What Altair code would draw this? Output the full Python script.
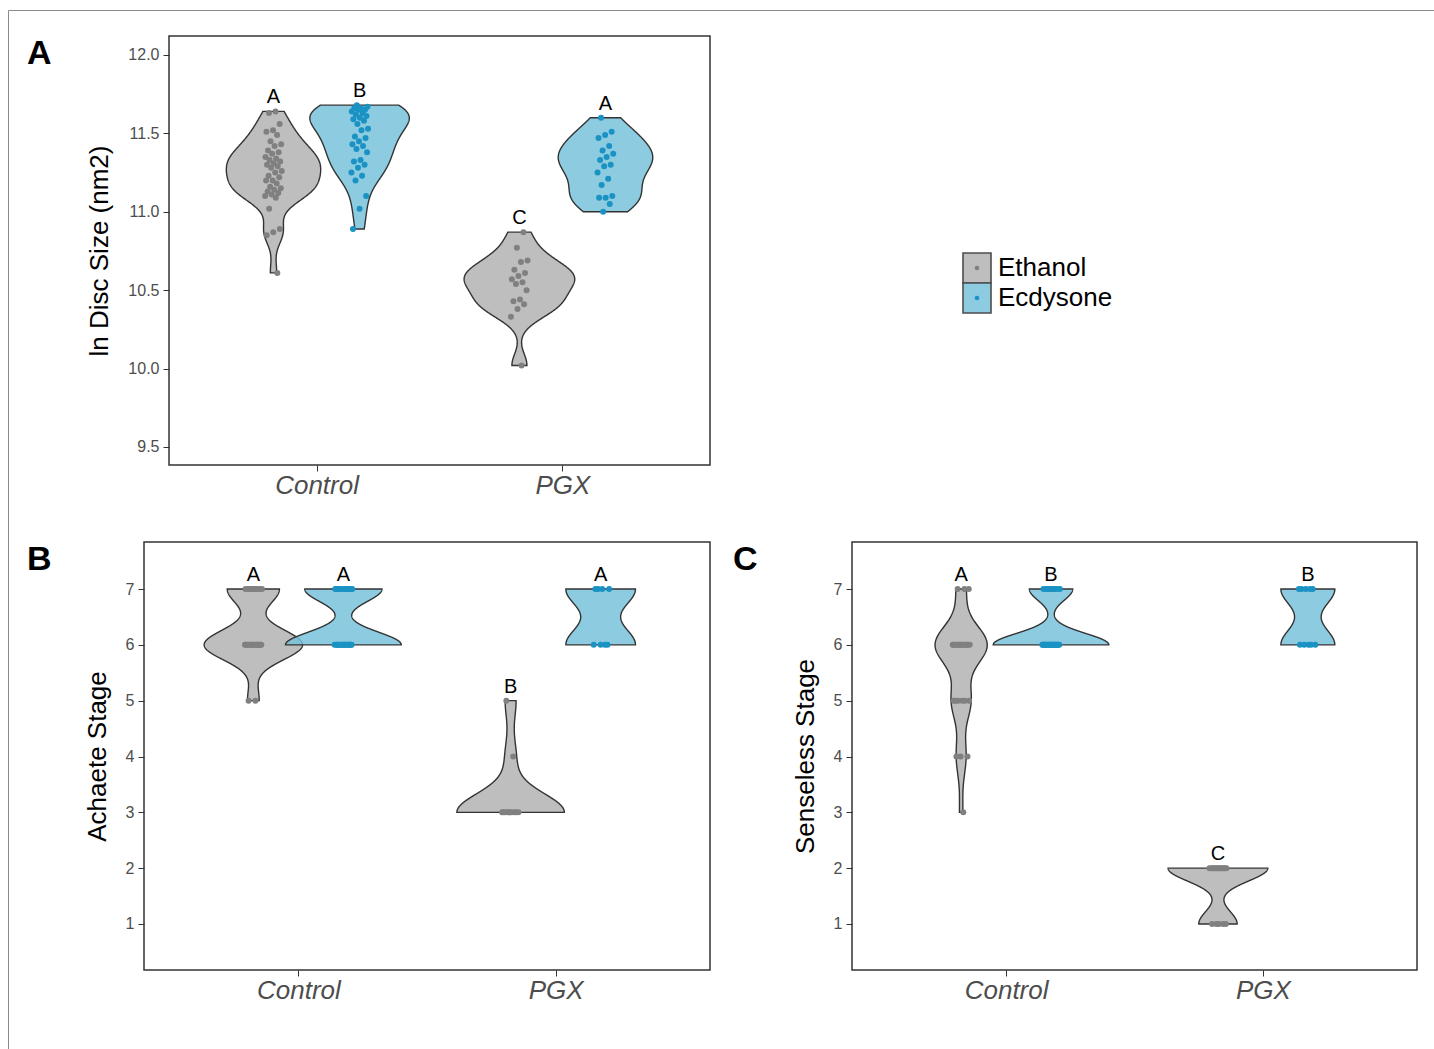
import altair as alt
import numpy as np
import pandas as pd

# ---------------- data ----------------
categories = ["Control", "PGX"]
treatments = ["Ethanol", "Ecdysone"]

# Panel A: ln disc size
a_control_ethanol = [11.64, 11.63, 11.56, 11.52, 11.51, 11.49, 11.45, 11.43, 11.42, 11.39,
                     11.38, 11.37, 11.35, 11.34, 11.33, 11.32, 11.31, 11.30, 11.29, 11.28,
                     11.26, 11.25, 11.23, 11.22, 11.20, 11.20, 11.18, 11.16, 11.15, 11.14,
                     11.13, 11.12, 11.11, 11.10, 11.09, 11.02, 10.89, 10.87, 10.85, 10.61]
a_control_ecdysone = [11.68, 11.67, 11.66, 11.66, 11.65, 11.65, 11.64, 11.63, 11.62, 11.61,
                      11.60, 11.59, 11.58, 11.56, 11.53, 11.52, 11.48, 11.47, 11.45, 11.43,
                      11.42, 11.40, 11.38, 11.33, 11.32, 11.30, 11.28, 11.25, 11.23, 11.20,
                      11.10, 11.02, 10.89]
a_pgx_ethanol = [10.87, 10.77, 10.69, 10.68, 10.63, 10.61, 10.59, 10.57, 10.55, 10.54,
                 10.50, 10.44, 10.43, 10.41, 10.38, 10.33, 10.02]
a_pgx_ecdysone = [11.60, 11.51, 11.49, 11.47, 11.42, 11.39, 11.37, 11.35, 11.33,
                  11.30, 11.29, 11.25, 11.21, 11.17, 11.10, 11.09, 11.09, 11.05, 11.00]

# Panel B: Achaete stage
b_control_ethanol = [5, 5,
                     6, 6, 6, 6, 6, 6, 6, 6, 6, 6, 6, 6, 6, 6, 6, 6, 6,
                     7, 7, 7, 7, 7, 7, 7, 7, 7]
b_control_ecdysone = [6, 6, 6, 6, 6, 6, 6, 6, 6, 6, 6, 6, 6, 6, 6, 6, 6, 6,
                      7, 7, 7, 7, 7, 7, 7, 7, 7, 7, 7, 7]
b_pgx_ethanol = [3, 3, 3, 3, 3, 3, 3, 3, 3, 3, 4, 5]
b_pgx_ecdysone = [6, 6, 6, 6, 7, 7, 7, 7]

# Panel C: Senseless stage
c_control_ethanol = [3, 4, 4, 4, 5, 5, 5, 5, 5, 5,
                     6, 6, 6, 6, 6, 6, 6, 6, 6, 6, 6, 6, 6, 6, 6, 6,
                     7, 7, 7]
c_control_ecdysone = [6, 6, 6, 6, 6, 6, 6, 6, 6, 6, 6, 6, 6, 6, 6, 6, 6, 6, 6, 6, 6, 6, 6, 6,
                      7, 7, 7, 7, 7, 7, 7, 7, 7]
c_pgx_ethanol = [1, 1, 1, 1, 1, 2, 2, 2, 2, 2, 2, 2, 2, 2, 2, 2, 2, 2]
c_pgx_ecdysone = [6, 6, 6, 6, 6, 7, 7, 7, 7, 7]

letters_a = ["A", "B", "C", "A"]
letters_b = ["A", "A", "B", "A"]
letters_c = ["A", "B", "C", "B"]

y_ticks_a = [9.5, 10.0, 10.5, 11.0, 11.5, 12.0]
y_ticks_stage = [1, 2, 3, 4, 5, 6, 7]

# ---------------- style / layout ----------------
W, H = 1434, 1049
FONT = "Liberation Sans"
FILL = {"Ethanol": "#b3b3b3", "Ecdysone": "#78c2db"}
KEYFILL = ["#bebebe", "#8ccbe0"]
POINT = {"Ethanol": "#808080", "Ecdysone": "#1a93c4"}
OUTLINE = "#333333"
FRAME = "#8a8a8a"
DODGE = 0.175
HALF = 0.225
JIT = 0.07
one_row = pd.DataFrame({"k": [0]})

# plot-area boxes in page pixels: (left, right, top, bottom)
BOX_A = (169, 710, 36, 465)
BOX_B = (144, 710, 542, 970)
BOX_C = (852, 1417, 542, 970)


def nrd0(x):
    x = np.asarray(x, float)
    sd = x.std(ddof=1)
    q75, q25 = np.percentile(x, [75, 25])
    lo = min(sd, (q75 - q25) / 1.34)
    if not lo:
        lo = sd or abs(x[0]) or 1.0
    return 0.9 * lo * len(x) ** -0.2


def kde_peak(x, h):
    x = np.asarray(x, float)
    g = np.linspace(x.min(), x.max(), 512)
    d = np.exp(-0.5 * ((g[:, None] - x[None, :]) / h) ** 2).sum(1) / (len(x) * h * np.sqrt(2 * np.pi))
    return d.max()


def panel(series, letters, ydomain, yticks, yfmt, ytitle, box):
    left, right, top, bottom = box
    keys = [(c, t) for c in categories for t in treatments]
    groups = dict(zip(keys, series))
    rows = [dict(cat=c, treat=t, value=v) for (c, t), vals in groups.items() for v in vals]
    df = pd.DataFrame(rows)
    bws = {g: float(nrd0(v)) for g, v in groups.items()}
    dmax = max(kde_peak(v, bws[g]) for g, v in groups.items())
    k = HALF / dmax

    xscale = alt.Scale(domain=[0.4, 2.6], range=[left, right], nice=False, zero=False)
    yscale = alt.Scale(domain=ydomain, range=[bottom, top], nice=False, zero=False)
    lab = " : ".join(f"datum.value == {i + 1} ? '{c}'" for i, c in enumerate(categories)) + " : ''"
    xaxis = alt.Axis(values=[1, 2], labelExpr=lab, title=None, orient="bottom",
                     offset=bottom - H, labelFontSize=26, labelFontStyle="italic",
                     labelPadding=1)
    yaxis = alt.Axis(values=yticks, format=yfmt, title=ytitle, orient="left", offset=-left)

    layers = []
    for (c, t), vals in groups.items():
        pos = categories.index(c) + 1 + (-DODGE if t == "Ethanol" else DODGE)
        lay = (
            alt.Chart(df)
            .transform_filter(f"datum.cat == '{c}' && datum.treat == '{t}'")
            .transform_density("value", bandwidth=bws[(c, t)], extent=[min(vals), max(vals)],
                               steps=300, as_=["value", "density"])
            .transform_calculate(left=f"{pos} - datum.density * {k}",
                                 right=f"{pos} + datum.density * {k}")
            .mark_area(orient="horizontal", fill=FILL[t], fillOpacity=0.85,
                       stroke=OUTLINE, strokeWidth=1.4)
            .encode(x=alt.X("left:Q", scale=xscale, axis=xaxis),
                    x2="right:Q",
                    y=alt.Y("value:Q", scale=yscale, axis=yaxis))
        )
        layers.append(lay)

    cat_js = "[" + ",".join(f"'{c}'" for c in categories) + "]"
    pts = (
        alt.Chart(df)
        .transform_window(rn="row_number()")
        .transform_calculate(
            xj=f"indexof({cat_js}, datum.cat) + 1 + (datum.treat == 'Ethanol' ? {-DODGE} : {DODGE})"
               f" + ((datum.rn * 0.6180339887) % 1 - 0.5) * {JIT}")
        .mark_circle(size=36, opacity=1)
        .encode(x=alt.X("xj:Q", scale=xscale, axis=xaxis),
                y=alt.Y("value:Q", scale=yscale, axis=yaxis),
                color=alt.Color("treat:N", scale=alt.Scale(domain=treatments,
                                range=[POINT[t] for t in treatments]), legend=None))
    )

    ldf = pd.DataFrame([dict(cat=c, treat=t, letter=l, top=max(groups[(c, t)]))
                        for (c, t), l in zip(keys, letters)])
    lett = (
        alt.Chart(ldf)
        .transform_calculate(
            xp=f"indexof({cat_js}, datum.cat) + 1 + (datum.treat == 'Ethanol' ? {-DODGE} : {DODGE})")
        .mark_text(fontSize=20, dy=-8, baseline="alphabetic", font=FONT, color="black")
        .encode(x=alt.X("xp:Q", scale=xscale, axis=xaxis),
                y=alt.Y("top:Q", scale=yscale, axis=yaxis),
                text="letter:N")
    )

    border = (
        alt.Chart(one_row)
        .mark_rect(fillOpacity=0, stroke=OUTLINE, strokeWidth=1.5)
        .encode(x=alt.X(datum=0.4, type="quantitative", scale=xscale, axis=xaxis),
                x2=alt.datum(2.6),
                y=alt.Y(datum=ydomain[0], type="quantitative", scale=yscale, axis=yaxis),
                y2=alt.datum(ydomain[1]))
    )
    return alt.layer(*layers, pts, lett, border)


panel_a = panel([a_control_ethanol, a_control_ecdysone, a_pgx_ethanol, a_pgx_ecdysone],
                letters_a, [9.385, 12.121], y_ticks_a, ".1f", "ln Disc Size (nm2)", BOX_A)
panel_b = panel([b_control_ethanol, b_control_ecdysone, b_pgx_ethanol, b_pgx_ecdysone],
                letters_b, [0.176, 7.842], y_ticks_stage, "d", "Achaete Stage", BOX_B)
panel_c = panel([c_control_ethanol, c_control_ecdysone, c_pgx_ethanol, c_pgx_ecdysone],
                letters_c, [0.176, 7.842], y_ticks_stage, "d", "Senseless Stage", BOX_C)

# ---- legend (own band scale) ----
leg_df = pd.DataFrame({"treat": treatments})
ys = alt.Scale(type="band", domain=treatments, range=[253, 313], paddingInner=0, paddingOuter=0)
leg_rect = alt.Chart(leg_df).mark_rect(stroke="#4d4d4d", strokeWidth=1.6).encode(
    y=alt.Y("treat:N", scale=ys, axis=None), x=alt.value(963), x2=alt.value(991),
    fill=alt.Fill("treat:N", scale=alt.Scale(domain=treatments, range=KEYFILL), legend=None))
leg_dot = alt.Chart(leg_df).mark_circle(size=22, opacity=1).encode(
    y=alt.Y("treat:N", scale=ys, axis=None), x=alt.value(977),
    color=alt.Color("treat:N", scale=alt.Scale(domain=treatments,
                    range=[POINT[t] for t in treatments]), legend=None))
leg_txt = alt.Chart(leg_df).mark_text(align="left", baseline="middle", fontSize=26,
                                      font=FONT, color="black").encode(
    y=alt.Y("treat:N", scale=ys, axis=None), x=alt.value(998), text="treat:N")
legend = alt.layer(leg_rect, leg_dot, leg_txt)

# ---- panel tags and figure frame ----
tag_df = pd.DataFrame({"tag": ["A", "B", "C"], "tx": [27, 27, 733], "ty": [64, 570, 570]})
tags = alt.Chart(tag_df).mark_text(fontSize=34, fontWeight="bold", font=FONT, align="left",
                                   baseline="alphabetic", color="black").encode(
    x=alt.X("tx:Q", scale=alt.Scale(domain=[0, W], range=[0, W]), axis=None),
    y=alt.Y("ty:Q", scale=alt.Scale(domain=[0, H], range=[0, H]), axis=None),
    text="tag:N")
frame_v = alt.Chart(one_row).mark_rule(color=FRAME, strokeWidth=1).encode(
    x=alt.value(8.5), y=alt.value(10.5), y2=alt.value(H))
frame_h = alt.Chart(one_row).mark_rule(color=FRAME, strokeWidth=1).encode(
    x=alt.value(8.5), x2=alt.value(W), y=alt.value(10.5))

chart = (
    alt.layer(panel_a, panel_b, panel_c, legend, tags, frame_v, frame_h)
    .resolve_scale(x="independent", y="independent")
    .properties(width=W, height=H, autosize=alt.AutoSizeParams(type="none"), padding=0,
                background="white")
    .configure_view(strokeOpacity=0)
    .configure_axis(labelFont=FONT, titleFont=FONT, labelColor="#4d4d4d", tickColor=OUTLINE,
                    domain=False, grid=False, titleFontWeight="normal", titleColor="black",
                    labelFontSize=16, titleFontSize=26, tickSize=6, labelPadding=4,
                    titlePadding=15)
)

chart.save("out.html", embed_options={"renderer": "svg", "actions": False})
